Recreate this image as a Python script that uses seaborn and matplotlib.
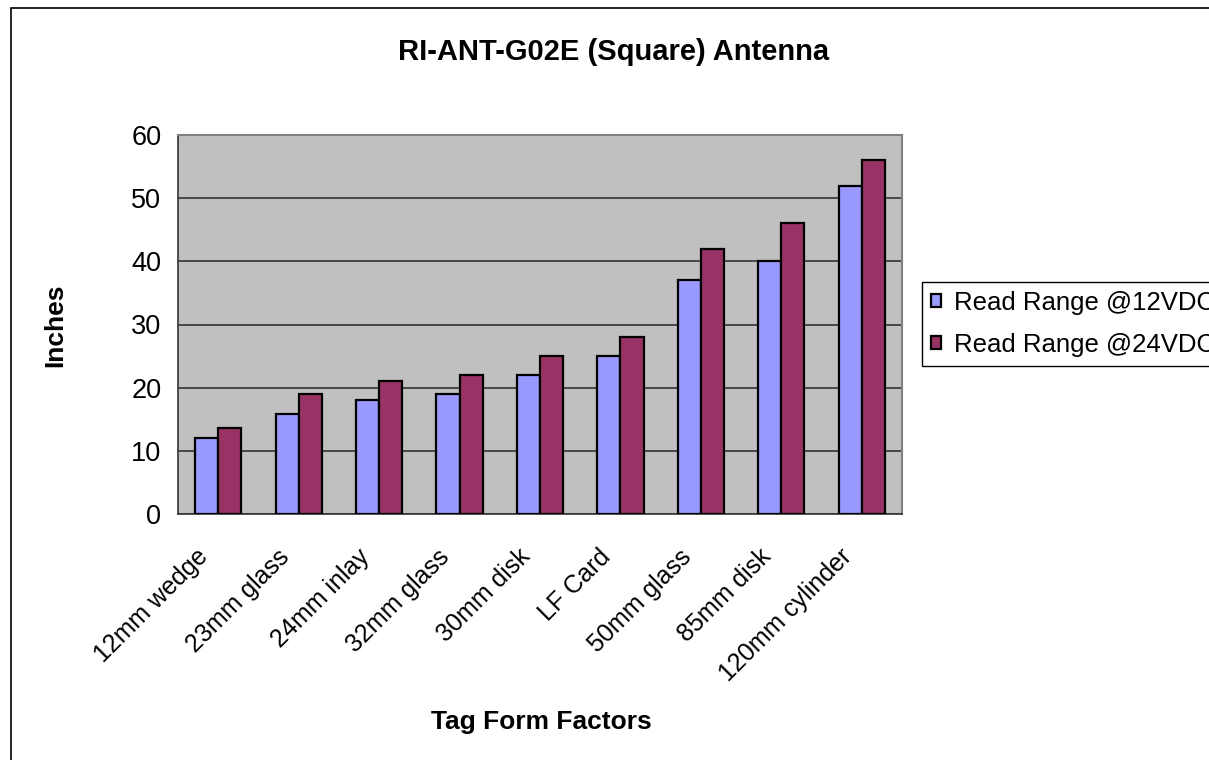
import numpy as np
import pandas as pd
import matplotlib
matplotlib.use("Agg")
import matplotlib.pyplot as plt
from matplotlib.patches import Rectangle
from matplotlib.transforms import ScaledTranslation
import seaborn as sns

CATEGORIES = ['12mm wedge', '23mm glass', '24mm inlay', '32mm glass', '30mm disk',
              'LF Card', '50mm glass', '85mm disk', '120mm cylinder']
SERIES = ['Read Range @12VDC', 'Read Range @24VDC']
RANGE_12V = [12, 15.8, 18, 19, 22, 25, 37.1, 40, 52]
RANGE_24V = [13.6, 19, 21, 22, 25, 28, 42, 46, 56]
Y_TICKS = [0, 10, 20, 30, 40, 50, 60]
COLORS = ['#9999FF', '#993366']

df = pd.DataFrame({
    'tag': CATEGORIES * 2,
    'series': [SERIES[0]] * len(CATEGORIES) + [SERIES[1]] * len(CATEGORIES),
    'inches': RANGE_12V + RANGE_24V,
})

sns.set_style('white')
plt.rcParams['font.family'] = ['Liberation Sans', 'DejaVu Sans']
plt.rcParams['text.color'] = 'black'
plt.rcParams['xtick.color'] = 'black'
plt.rcParams['ytick.color'] = 'black'
plt.rcParams['axes.labelcolor'] = 'black'

W, H = 1209, 760
fig = plt.figure(figsize=(W / 100, H / 100), dpi=100)
ax = fig.add_axes([178 / W, 1 - 514 / H, (902 - 178) / W, (514 - 135) / H])

sns.barplot(data=df, x='tag', y='inches', hue='series', palette=COLORS,
            width=0.575, gap=0, edgecolor='black', linewidth=1.6,
            saturation=1, ax=ax, zorder=3)

ax.set_facecolor('#C0C0C0')
ax.set_ylim(0, 60)
ax.set_xlim(-0.5, len(CATEGORIES) - 0.5)
ax.set_yticks(Y_TICKS)
ax.yaxis.grid(True, color='#333333', linewidth=1.2, zorder=0)
ax.set_axisbelow(True)

ax.set_xticks(range(len(CATEGORIES)))
ax.set_xticklabels(CATEGORIES, rotation=45, ha='right', va='top', rotation_mode='anchor')
ax.set_xticks(np.arange(-0.5, len(CATEGORIES), 1.0), minor=True)
ax.tick_params(axis='x', which='major', length=0, pad=22, labelsize=18)
ax.tick_params(axis='x', which='minor', length=8, width=1, color='#333333', direction='out')
ax.tick_params(axis='y', length=7, width=1, color='#333333', direction='out', pad=5, labelsize=19.5)
# excel puts the rotated labels a bit left of the category centre
shift = ScaledTranslation(-0.22, 0, fig.dpi_scale_trans)
for lab in ax.get_xticklabels():
    lab.set_transform(lab.get_transform() + shift)

for side in ['left', 'bottom']:
    ax.spines[side].set_color('#333333')
    ax.spines[side].set_linewidth(1.2)
for side in ['top', 'right']:
    ax.spines[side].set_color('#808080')
    ax.spines[side].set_linewidth(1.5)
    ax.spines[side].set_visible(True)

ax.set_xlabel('')
ax.set_ylabel('')

handles, labels = ax.get_legend_handles_labels()
if ax.get_legend() is not None:
    ax.get_legend().remove()
leg = fig.legend(handles, labels, loc='upper left',
                 bbox_to_anchor=(922 / W, 1 - 282 / H), bbox_transform=fig.transFigure,
                 fontsize=18.5, frameon=True, fancybox=False, framealpha=1,
                 edgecolor='black', handlelength=0.4, handleheight=0.4,
                 handletextpad=0.5, borderpad=0.35, labelspacing=0.7, borderaxespad=0)
leg.get_frame().set_linewidth(1)

fig.text(614 / W, 1 - 52 / H, 'RI-ANT-G02E (Square) Antenna', ha='center', va='center',
         fontsize=21, fontweight='bold')
fig.text(541 / W, 1 - 722 / H, 'Tag Form Factors', ha='center', va='center',
         fontsize=19, fontweight='bold')
fig.text(55 / W, 1 - 325 / H, 'Inches', ha='center', va='center', rotation=90,
         fontsize=19, fontweight='bold')

fig.patches.append(Rectangle((11 / W, -0.1), 1.2, 1 - 8 / H + 0.1, transform=fig.transFigure,
                             fill=False, edgecolor='black', linewidth=1.2, zorder=10))

fig.savefig('out.png', dpi=100)
